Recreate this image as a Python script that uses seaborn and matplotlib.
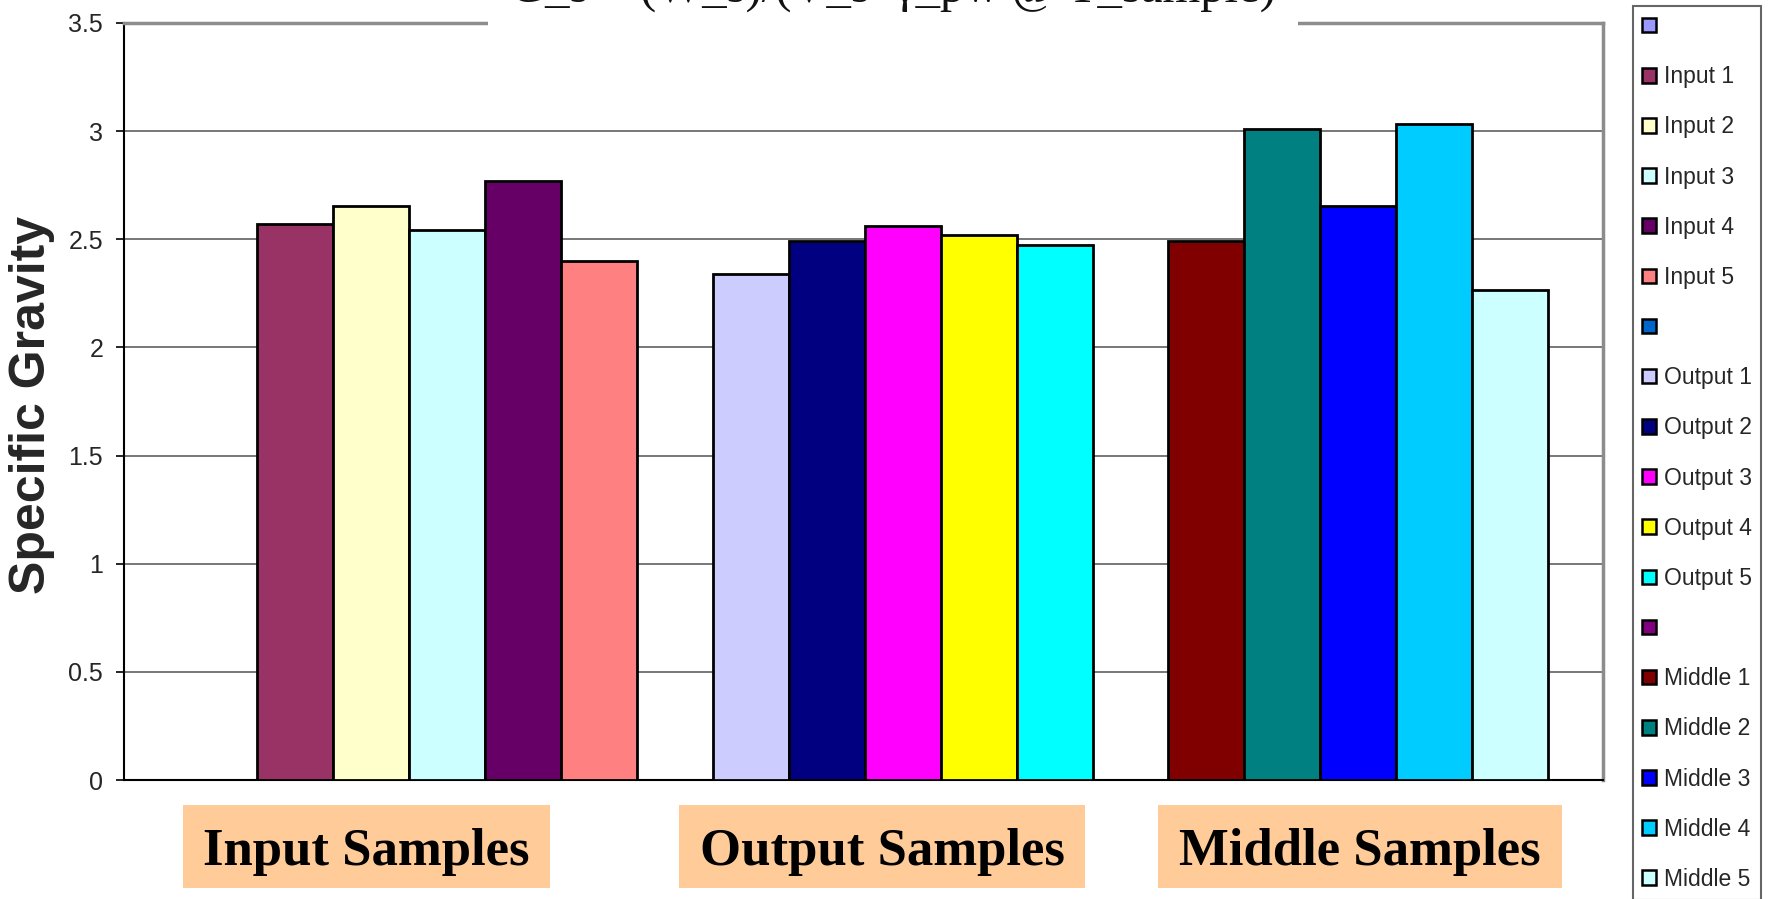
import pandas as pd
import numpy as np
import matplotlib
matplotlib.use("Agg")
import matplotlib.pyplot as plt
from matplotlib.patches import Patch, Rectangle
from matplotlib.ticker import MultipleLocator, FuncFormatter
import seaborn as sns

# data
groups = ["Input Samples", "Output Samples", "Middle Samples"]
blank_names = [" ", "  ", "   "]
blank_colors = ["#9999FF", "#0066CC", "#800080"]

input_names = ["Input 1", "Input 2", "Input 3", "Input 4", "Input 5"]
input_vals = [2.57, 2.655, 2.545, 2.77, 2.40]
input_colors = ["#993366", "#FFFFCC", "#CCFFFF", "#660066", "#FF8080"]

output_names = ["Output 1", "Output 2", "Output 3", "Output 4", "Output 5"]
output_vals = [2.34, 2.49, 2.56, 2.52, 2.475]
output_colors = ["#CCCCFF", "#000080", "#FF00FF", "#FFFF00", "#00FFFF"]

middle_names = ["Middle 1", "Middle 2", "Middle 3", "Middle 4", "Middle 5"]
middle_vals = [2.49, 3.01, 2.655, 3.035, 2.265]
middle_colors = ["#800000", "#008080", "#0000FF", "#00CCFF", "#CCFFFF"]

series_names = [input_names, output_names, middle_names]
series_vals = [input_vals, output_vals, middle_vals]
series_colors = [input_colors, output_colors, middle_colors]

title_text = "G_s = (W_s)/(V_s*\u03b3_pw @ T_sample)"

sns.set_style("white")
plt.rcParams["font.family"] = ["Liberation Sans", "DejaVu Sans"]

fig = plt.figure(figsize=(17.72, 8.99), dpi=100)
ax = fig.add_axes([124 / 1772, 1 - 780 / 899, (1603 - 124) / 1772, (780 - 23) / 899])

# one barplot per group so each group keeps its own six-slot colour set
for g, grp in enumerate(groups):
    df = pd.DataFrame({"group": grp, "series": series_names[g], "value": series_vals[g]})
    hue_order = [blank_names[g]] + series_names[g]
    palette = dict(zip(hue_order, [blank_colors[g]] + series_colors[g]))
    sns.barplot(data=df, x="group", y="value", hue="series", order=groups,
                hue_order=hue_order, palette=palette, width=1.0, dodge=True,
                errorbar=None, edgecolor="black", linewidth=2.0, saturation=1,
                legend=False, ax=ax, zorder=3)

ax.set_xlim(-0.625, 2.62)
ax.set_ylim(0, 3.5)
ax.yaxis.set_major_locator(MultipleLocator(0.5))
ax.yaxis.set_major_formatter(FuncFormatter(lambda v, p: f"{v:g}"))
ax.yaxis.grid(True, color="#606060", linewidth=1.2)
ax.set_axisbelow(True)
ax.set_xticks([])
ax.set_xlabel("")
ax.tick_params(axis="y", direction="out", length=6, width=1.2, pad=9,
               labelsize=18, left=True, color="black")

for side in ["top", "right"]:
    ax.spines[side].set_color("#8c8c8c")
    ax.spines[side].set_linewidth(2.5)
for side in ["left", "bottom"]:
    ax.spines[side].set_color("black")
    ax.spines[side].set_linewidth(1.5)

ax.set_ylabel("Specific Gravity", fontsize=36, fontweight="bold")
ax.yaxis.set_label_coords(-0.062, 0.495)
ax.yaxis.label.set_va("center")

# formula title, cut by the top edge as in the original
fig.text(893 / 1772, 1 - 2 / 899, title_text,
         ha="center", va="baseline", fontsize=35, color="#111111",
         family=["Liberation Serif", "DejaVu Serif"],
         bbox=dict(boxstyle="square,pad=0.45", facecolor="white", edgecolor="none"))

# category labels in peach boxes
box_spans = [(183, 550), (679, 1085), (1158, 1562)]
for grp, (x0, x1) in zip(groups, box_spans):
    fig.add_artist(Rectangle((x0 / 1772, 1 - 888 / 899), (x1 - x0) / 1772, 83 / 899,
                             transform=fig.transFigure, facecolor="#FFCC99",
                             edgecolor="none"))
    fig.text((x0 + x1) / 2 / 1772, 1 - 865 / 899, grp, ha="center", va="baseline",
             fontsize=38, fontweight="bold", family="Liberation Serif", color="black")

# legend with the blank separator entries
handles, labels = [], []
for g in range(3):
    handles.append(Patch(facecolor=blank_colors[g], edgecolor="black", linewidth=1.8))
    labels.append(" ")
    for name, col in zip(series_names[g], series_colors[g]):
        handles.append(Patch(facecolor=col, edgecolor="black", linewidth=1.8))
        labels.append(name)

leg = fig.legend(handles, labels, loc="upper left", bbox_to_anchor=(1633 / 1772, 1 - 6 / 899),
                 fontsize=16.5, frameon=True, fancybox=False, edgecolor="#404040",
                 handlelength=0.6, handleheight=0.6, handletextpad=0.35,
                 labelspacing=1.185, borderpad=0.4, borderaxespad=0)
leg.get_frame().set_linewidth(1.5)

fig.savefig("out.png", dpi=100)
